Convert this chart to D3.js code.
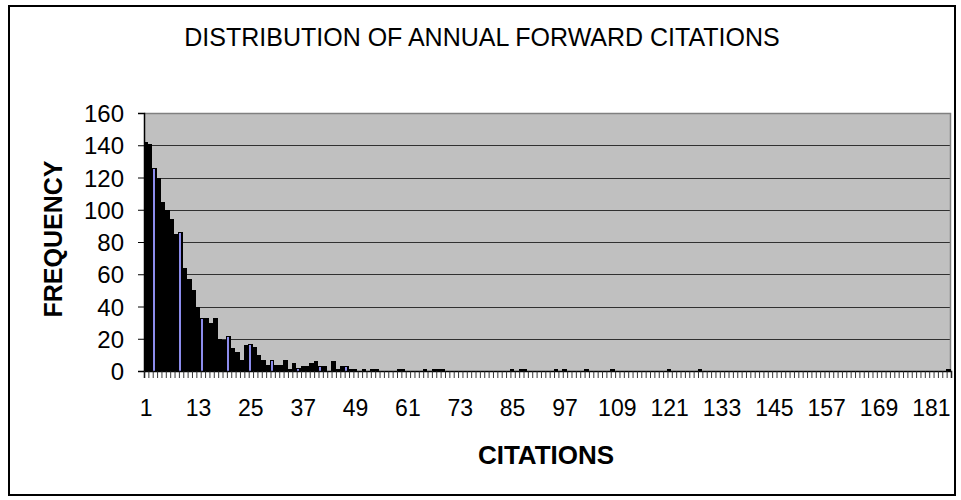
<!DOCTYPE html>
<html>
<head>
<meta charset="utf-8">
<script src="https://cdn.jsdelivr.net/npm/d3@7"></script>
<style>
  html, body { margin: 0; padding: 0; background: #fff; }
  text { font-family: "Liberation Sans", Arial, sans-serif; fill: #000; }
</style>
</head>
<body>
<svg id="chart" width="961" height="500"></svg>
<script>
// ---- data ----
const categories = d3.range(1, 186); // citation counts 1..185
const frequency = [
  142, 141, 126, 120, 105, 100, 94, 85, 86, 64,
  57, 50, 40, 33, 33, 30, 33, 20, 19, 22,
  14, 12, 7, 16, 17, 15, 10, 7, 4, 7,
  4, 4, 7, 1, 5, 2, 3, 3, 5, 6,
  3, 3, 0, 6, 1, 3, 3, 1, 1, 0,
  1, 0, 1, 1, 0, 0, 0, 0, 1, 1,
  0, 0, 0, 0, 1, 0, 1, 1, 1, 0,
  0, 0, 0, 0, 0, 0, 0, 0, 0, 0,
  0, 0, 0, 0, 1, 0, 1, 1, 0, 0,
  0, 0, 0, 0, 1, 0, 1, 0, 0, 0,
  0, 1, 0, 0, 0, 0, 0, 1, 0, 0,
  0, 0, 0, 0, 0, 0, 0, 0, 0, 0,
  1, 0, 0, 0, 0, 0, 0, 1, 0, 0,
  0, 0, 0, 0, 0, 0, 0, 0, 0, 0,
  0, 0, 0, 0, 0, 0, 0, 0, 0, 0,
  0, 0, 0, 0, 0, 0, 0, 0, 0, 0,
  0, 0, 0, 0, 0, 0, 0, 0, 0, 0,
  0, 0, 0, 0, 0, 0, 0, 0, 0, 0,
  0, 0, 0, 0, 1
];
const xTickLabels = [1, 13, 25, 37, 49, 61, 73, 85, 97, 109, 121, 133, 145, 157, 169, 181];
const yTicks = [0, 20, 40, 60, 80, 100, 120, 140, 160];
const titleText = "DISTRIBUTION OF ANNUAL FORWARD CITATIONS";
const xTitle = "CITATIONS";
const yTitle = "FREQUENCY";

// ---- layout ----
const svg = d3.select("#chart");
const plot = { left: 144, right: 951, top: 113, bottom: 371 };

svg.append("rect").attr("x", 0).attr("y", 0).attr("width", 961).attr("height", 500).attr("fill", "#fff");
svg.append("rect").attr("x", 9).attr("y", 6).attr("width", 946).attr("height", 489)
  .attr("fill", "none").attr("stroke", "#000").attr("stroke-width", 2);

const x = d3.scaleBand().domain(categories).range([plot.left, plot.right]).paddingInner(0).paddingOuter(0);
const xEdge = d3.scaleLinear().domain([0, categories.length]).range([plot.left, plot.right]);
const y = d3.scaleLinear().domain([0, 160]).range([plot.bottom, plot.top]);

// plot background
svg.append("rect")
  .attr("x", plot.left).attr("y", plot.top)
  .attr("width", plot.right - plot.left).attr("height", plot.bottom - plot.top)
  .attr("fill", "#c0c0c0");

// gridlines
svg.append("g")
  .selectAll("line")
  .data(yTicks.filter(d => d > 0 && d < 160))
  .join("line")
  .attr("x1", plot.left).attr("x2", plot.right)
  .attr("y1", d => Math.round(y(d)) + 0.5).attr("y2", d => Math.round(y(d)) + 0.5)
  .attr("stroke", "#303030").attr("stroke-width", 1.2);

// plot border top/right (gray)
svg.append("path")
  .attr("d", `M${plot.left},${plot.top + 0.5}H${plot.right - 0.5}V${plot.bottom}`)
  .attr("fill", "none").attr("stroke", "#808080").attr("stroke-width", 1.5);

// bars: black-outlined columns; the blue fill shows through only on the
// occasional bar (aliasing moire of the original rendering, period ~5.45 bars)
const step = x.step();
const moire = 1 / 5.45, phase = 0.505;
const barsG = svg.append("g").attr("shape-rendering", "crispEdges");
categories.forEach((c, i) => {
  const v = frequency[i];
  if (!v) return;
  const x0 = Math.round(x(c) - 0.4);
  const x1 = Math.round(x(c) + step - 0.4);
  const yTop = Math.round(y(v));
  const h = Math.max(1, Math.round(y(0)) - yTop);
  barsG.append("rect")
    .attr("x", x0).attr("y", yTop).attr("width", Math.max(1, x1 - x0)).attr("height", h)
    .attr("fill", "#000");
  const showsFill = Math.floor(c * moire + phase) > Math.floor((c - 1) * moire + phase);
  if (showsFill && h >= 3) {
    barsG.append("rect")
      .attr("x", x0 + 1).attr("y", yTop + 1).attr("width", 2).attr("height", h - 1)
      .attr("fill", "#8c8cec");
  }
});

// y axis
const yAxis = svg.append("g")
  .attr("transform", `translate(${plot.left},0)`)
  .call(d3.axisLeft(y).tickValues(yTicks).tickSize(6).tickPadding(14).tickFormat(d3.format("d")));
yAxis.select(".domain").attr("stroke", "#000").attr("stroke-width", 1.5);
yAxis.selectAll(".tick line").attr("stroke", "#000");
yAxis.selectAll("text").style("font-size", "24px").attr("dy", "0.36em");

// x axis: category-boundary ticks
const xTicksAxis = svg.append("g")
  .attr("transform", `translate(0,${plot.bottom})`)
  .call(d3.axisBottom(xEdge).tickValues(d3.range(0, categories.length + 1)).tickSize(7).tickFormat(""));
xTicksAxis.select(".domain").attr("stroke", "#000").attr("stroke-width", 1.5);
xTicksAxis.selectAll(".tick line").attr("stroke", "#222").attr("stroke-width", 0.9);

// x axis labels
const xLab = svg.append("g")
  .attr("transform", `translate(0,${plot.bottom})`)
  .call(d3.axisBottom(x).tickValues(xTickLabels).tickSize(0).tickPadding(29));
xLab.select(".domain").remove();
xLab.selectAll("text").style("font-size", "23px");

// titles
svg.append("text")
  .attr("x", 482).attr("y", 46)
  .attr("text-anchor", "middle")
  .style("font-size", "25px")
  .text(titleText);

svg.append("text")
  .attr("x", 546).attr("y", 464)
  .attr("text-anchor", "middle")
  .style("font-size", "26px").style("font-weight", "bold")
  .text(xTitle);

svg.append("text")
  .attr("transform", "translate(62,239) rotate(-90)")
  .attr("text-anchor", "middle")
  .style("font-size", "25px").style("font-weight", "bold")
  .text(yTitle);
</script>
</body>
</html>
